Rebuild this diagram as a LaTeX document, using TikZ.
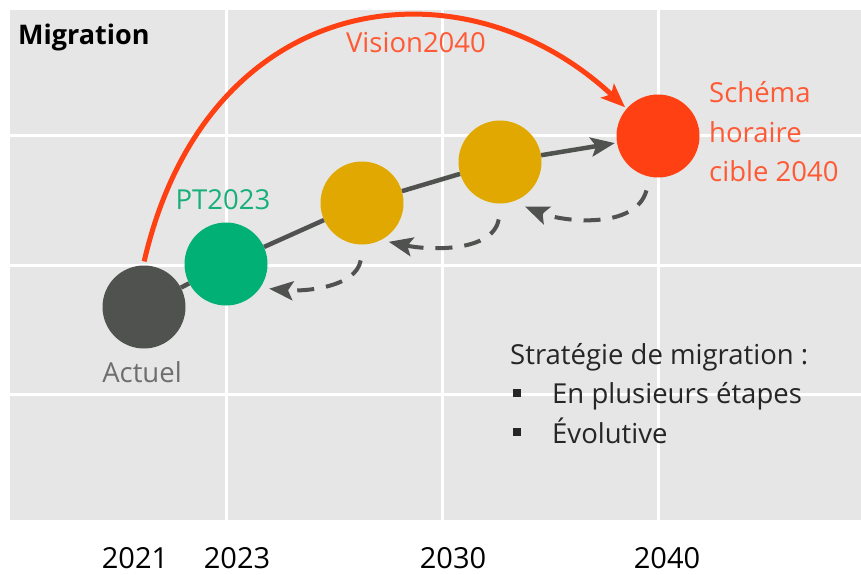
\documentclass[tikz,border=0pt]{standalone}
\usepackage{fontspec}
\setmainfont{Open Sans}
\usepackage{tikz}
\usetikzlibrary{arrows.meta}
\usepackage{xcolor}
\definecolor{panel}{HTML}{E6E6E6}
\definecolor{dgray}{HTML}{505250}
\definecolor{mgreen}{HTML}{00B074}
\definecolor{mgold}{HTML}{E0A800}
\definecolor{mred}{HTML}{FF4013}
\definecolor{tred}{HTML}{FF5A36}
\definecolor{tgreen}{HTML}{18B07A}
\definecolor{tgray}{HTML}{6E6E6E}
\newcommand{\stratitem}{\hspace*{3pt}\rule[7pt]{8pt}{8pt}\hspace*{31pt}}

\begin{document}
\begin{tikzpicture}[x=1pt,y=1pt]
\tikzset{>={Stealth[length=24pt,width=19pt,inset=5pt]}}
\tikzstyle{stage}=[circle,inner sep=0pt,minimum size=83pt]
\tikzstyle{lbl}=[inner sep=0pt,font=\fontsize{27.5}{39.5}\selectfont]
\tikzstyle{back}=[dgray,line width=4pt,dash pattern=on 17pt off 12pt,->]

\useasboundingbox (0,0) rectangle (861,574);
\fill[white] (0,0) rectangle (861,574);
\fill[panel] (10,54) rectangle (861,564);
\foreach \x in {226,442,658} \draw[white,line width=3pt] (\x,54) -- (\x,564);
\foreach \y in {180,309,438} \draw[white,line width=3pt] (10,\y) -- (861,\y);

\node[stage,fill=dgray](act) at (144,267){};
\node[stage,fill=mgreen](pt) at (226,310){};
\node[stage,fill=mgold](s1) at (362,371){};
\node[stage,fill=mgold](s2) at (500,412){};
\node[stage,fill=mred](tgt) at (658,438){};

\node[lbl,anchor=base west,font=\fontsize{27}{30}\selectfont\bfseries](title) at (18,529){Migration};
\node[lbl,anchor=base,text=tred](vis) at (416,521){Vision2040};
\node[lbl,anchor=base,text=tgreen](ptl) at (223,365){PT2023};
\node[lbl,anchor=base,text=tgray](actl) at (142,192){Actuel};
\node[lbl,anchor=base west,align=left,text=tred](tgtl) at (709,392){Schéma\\horaire\\cible 2040};
\node[lbl,anchor=base west,align=left,text=black!85](strat) at (510,131){Stratégie de migration :\\\stratitem En plusieurs étapes\\\stratitem Évolutive};
\foreach \yr/\x in {2021/135,2023/237,2030/453,2040/667}
  \node[lbl,anchor=base,font=\fontsize{29}{30}\selectfont](y\yr) at (\x,6){\yr};

\draw[dgray,line width=4.5pt,->,shorten >=2pt] (act) -- (pt) -- (s1) -- (s2) -- (tgt);
\draw[mred,line width=5pt,->,shorten <=4pt,shorten >=2pt] (act.91) to[out=77,in=137,out distance=285pt,in distance=225pt] (tgt.139);
\draw[back,shorten <=14pt,shorten >=13pt] (tgt.-101) to[out=-105,in=-22] (s2.-72);
\draw[back,shorten <=16pt,shorten >=8pt] (s2.-88) to[out=-100,in=-12] (s1.-63);
\draw[back,shorten <=16pt,shorten >=9pt] (s1.-88) to[out=-100,in=-5] (pt.-35);
\end{tikzpicture}
\end{document}
